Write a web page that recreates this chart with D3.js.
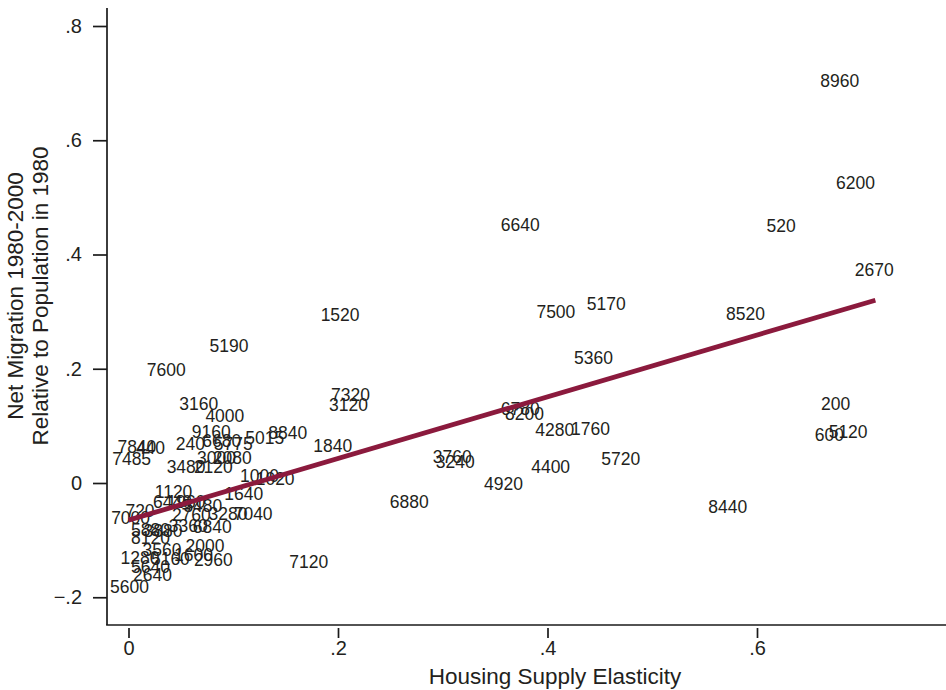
<!DOCTYPE html>
<html>
<head>
<meta charset="utf-8">
<script src="https://cdn.jsdelivr.net/npm/d3@7"></script>
<style>
  html, body { margin: 0; padding: 0; background: #fff; }
  svg { display: block; }
  text { font-family: "Liberation Sans", Arial, Helvetica, sans-serif; fill: #231f20; }
</style>
</head>
<body>
<svg id="chart" width="946" height="690"></svg>
<script>
// Metro area codes, housing supply elasticity, and net migration 1980-2000 / population 1980
const codes = [
  "8960","6200","520","2670","6640","7500","5170","8520","1520","5360",
  "5190","7600","7320","3120","3160","4000","9160","6680","240","5775",
  "5015","8840","7840","440","7485","3480","2120","3000","2080","1000",
  "1020","1840","1640","1120","6440","1960","5480","2760","3280","7040",
  "720","7000","6840","3360","5880","3880","8120","2000","1600","2960",
  "1280","5160","3560","2640","5640","5600","7120","6880","3760","3240",
  "4920","4400","5720","4280","1760","6780","8200","8440","200","600",
  "5120"
];
const elasticity = [
  0.679,0.694,0.623,0.712,0.374,0.408,0.456,0.589,0.202,0.444,
  0.096,0.036,0.212,0.210,0.067,0.092,0.079,0.089,0.059,0.100,
  0.130,0.152,0.008,0.021,0.003,0.055,0.081,0.084,0.099,0.125,
  0.140,0.195,0.110,0.043,0.042,0.055,0.071,0.060,0.095,0.119,
  0.011,0.002,0.080,0.057,0.021,0.033,0.021,0.073,0.062,0.081,
  0.011,0.040,0.032,0.023,0.021,0.001,0.172,0.268,0.309,0.312,
  0.358,0.403,0.470,0.407,0.441,0.374,0.378,0.572,0.675,0.669,
  0.687
];
const migration = [
  0.704,0.525,0.450,0.373,0.452,0.299,0.313,0.296,0.294,0.219,
  0.240,0.198,0.154,0.137,0.138,0.117,0.089,0.074,0.068,0.068,
  0.079,0.088,0.063,0.061,0.042,0.028,0.028,0.044,0.044,0.012,
  0.007,0.065,-0.018,-0.016,-0.033,-0.033,-0.039,-0.056,-0.053,-0.053,
  -0.049,-0.060,-0.077,-0.074,-0.081,-0.084,-0.095,-0.109,-0.126,-0.135,
  -0.130,-0.133,-0.117,-0.161,-0.147,-0.182,-0.138,-0.033,0.046,0.037,
  -0.002,0.028,0.042,0.093,0.095,0.130,0.121,-0.042,0.138,0.084,
  0.089
];

// Linear fit endpoints
const fitX = [0.0, 0.713];
const fitY = [-0.065, 0.320];

// Axis ticks
const xTicks = [0, 0.2, 0.4, 0.6];
const yTicks = [-0.2, 0, 0.2, 0.4, 0.6, 0.8];

const svg = d3.select("#chart");

const frame = { left: 107, right: 946, top: 8, bottom: 625 };

const x = d3.scaleLinear().domain([0, 0.6]).range([128.5, 757]);
const y = d3.scaleLinear().domain([0, 0.8]).range([483, 26]);

const fmt = v => v === 0 ? "0" : d3.format(".1f")(v).replace("0.", ".");

// Axis lines
svg.append("line")
  .attr("x1", frame.left).attr("x2", frame.left)
  .attr("y1", frame.top).attr("y2", frame.bottom)
  .attr("stroke", "#1a1a1a").attr("stroke-width", 1.7);
svg.append("line")
  .attr("x1", frame.left - 0.85).attr("x2", frame.right)
  .attr("y1", frame.bottom).attr("y2", frame.bottom)
  .attr("stroke", "#1a1a1a").attr("stroke-width", 1.7);

// Y axis
const yAxis = svg.append("g")
  .attr("transform", `translate(${frame.left},0)`)
  .call(d3.axisLeft(y).tickValues(yTicks).tickFormat(fmt).tickSize(14).tickPadding(11));
yAxis.select(".domain").remove();
yAxis.selectAll(".tick line").attr("stroke", "#1a1a1a").attr("stroke-width", 1.7);
yAxis.selectAll(".tick text")
  .style("font-family", '"Liberation Sans", Arial, sans-serif')
  .attr("font-size", 20).attr("fill", "#231f20");

// X axis (ticks set slightly below the axis line)
const xAxis = svg.append("g")
  .attr("transform", `translate(0,${frame.bottom + 3})`)
  .call(d3.axisBottom(x).tickValues(xTicks).tickFormat(fmt).tickSize(10).tickPadding(3));
xAxis.select(".domain").remove();
xAxis.selectAll(".tick line").attr("stroke", "#1a1a1a").attr("stroke-width", 1.7);
xAxis.selectAll(".tick text")
  .style("font-family", '"Liberation Sans", Arial, sans-serif')
  .attr("font-size", 20).attr("fill", "#231f20");

// Axis titles
svg.append("text")
  .attr("x", 555).attr("y", 684)
  .attr("text-anchor", "middle")
  .attr("font-size", 22.5)
  .text("Housing Supply Elasticity");

const yTitle = svg.append("g").attr("transform", "translate(0,296) rotate(-90)");
yTitle.append("text")
  .attr("x", 0).attr("y", 23)
  .attr("text-anchor", "middle").attr("font-size", 22.5)
  .text("Net Migration 1980-2000");
yTitle.append("text")
  .attr("x", 0).attr("y", 48)
  .attr("text-anchor", "middle").attr("font-size", 22.5)
  .text("Relative to Population in 1980");

// Point labels
const pts = codes.map((c, i) => ({ code: c, ex: elasticity[i], mig: migration[i] }));
svg.append("g").selectAll("text")
  .data(pts)
  .join("text")
  .attr("x", d => x(d.ex))
  .attr("y", d => y(d.mig))
  .attr("text-anchor", "middle")
  .attr("dy", "0.36em")
  .attr("font-size", 17.5)
  .text(d => d.code);

// Fitted line
const line = d3.line().x(d => x(d[0])).y(d => y(d[1]));
svg.append("path")
  .datum(fitX.map((v, i) => [v, fitY[i]]))
  .attr("d", line)
  .attr("fill", "none")
  .attr("stroke", "#8b1a3d")
  .attr("stroke-width", 4.8);
</script>
</body>
</html>
